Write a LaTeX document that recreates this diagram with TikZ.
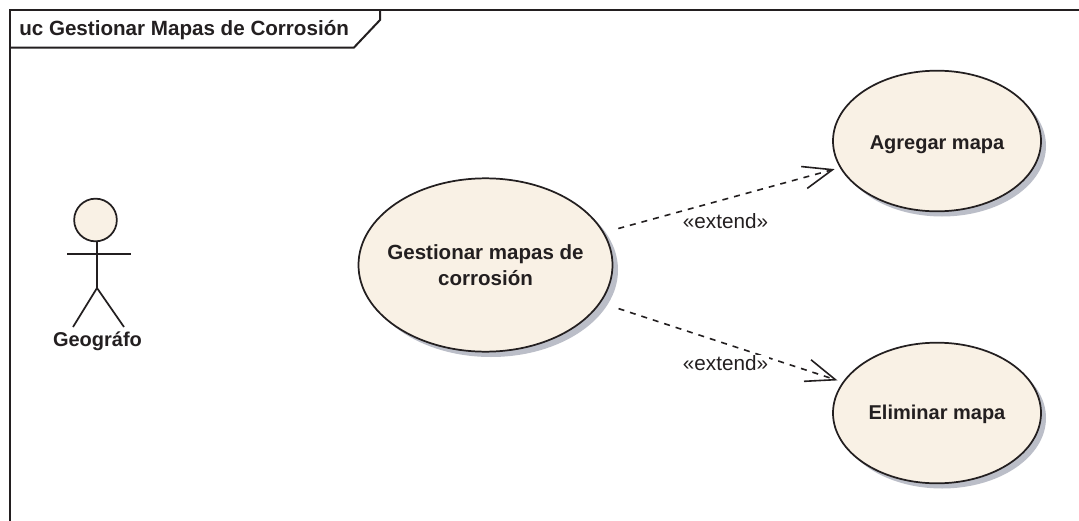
\documentclass[tikz,border=0pt]{standalone}
\usepackage{fontspec}
\setmainfont{Liberation Sans}
\usetikzlibrary{shapes.geometric,arrows.meta}
\definecolor{ink}{HTML}{231F20}
\definecolor{ucfill}{HTML}{F9F1E5}
\definecolor{ucshadow}{HTML}{BBBEC8}
\tikzset{
  x=0.75pt,y=-0.75pt,
  usecase/.style={ellipse,draw=ink,fill=ucfill,line width=1.3pt,inner sep=0pt,align=center,text=ink,font=\bfseries\fontsize{15}{19.5}\selectfont},
  shade/.style={fill=ucshadow,draw=none},
  frameline/.style={draw=ink,line width=1.5pt},
  limb/.style={draw=ink,line width=1.3pt},
  extendarrow/.style={draw=ink,line width=1.2pt,dash pattern=on 4.5pt off 4.5pt,shorten >=4pt,
    -{Straight Barb[length=22pt,width=17pt,line width=1.2pt]}},
  extendlabel/.style={fill=white,inner xsep=1pt,inner ysep=0pt,text=ink,font=\fontsize{15.5}{17}\selectfont},
}
\begin{document}
\begin{tikzpicture}
\useasboundingbox (0,0) rectangle (1079,521);
\fill[white] (0,0) rectangle (1079,521);
% frame
\draw[frameline] (1079,10) -- (10,10) -- (10,521);
\draw[frameline] (10,47.5) -- (354,47.5) -- (380,20) -- (380,10);
\node[anchor=west,inner sep=0pt,text=ink,font=\bfseries\fontsize{15.45}{18}\selectfont] (title) at (19,30) {uc Gestionar Mapas de Corrosión};
% shadows
\fill[shade] (491,270) ellipse [x radius=127,y radius=87];
\fill[shade] (942,146) ellipse [x radius=104,y radius=70.5];
\fill[shade] (942,418) ellipse [x radius=104,y radius=70.5];
% use cases
\node[usecase,minimum width=190.5pt,minimum height=130pt,inner xsep=-12pt,inner ysep=-5pt,font=\bfseries\fontsize{15.4}{19.5}\selectfont] (gest) at (485.5,265) {Gestionar mapas de\\corrosión};
\node[usecase,minimum width=156pt,minimum height=105.5pt] (agr) at (937,141) {\raisebox{-6.2pt}[5pt][5pt]{Agregar mapa}};
\node[usecase,minimum width=156pt,minimum height=105.5pt] (eli) at (937,413) {\raisebox{-4.5pt}[5pt][5pt]{Eliminar mapa}};
% actor
\node[circle,draw=ink,fill=ucfill,line width=1.3pt,minimum size=32pt,inner sep=0pt] (head) at (95.5,220) {};
\coordinate (hip) at (97,288);
\coordinate (armL) at (67,254);
\coordinate (armR) at (131,254);
\coordinate (footL) at (73,327);
\coordinate (footR) at (124,327);
\draw[limb] (head) ++(1.5,21.5) -- (hip);
\draw[limb] (armL) -- (armR);
\draw[limb] (footL) -- (hip) -- (footR);
\node[inner sep=0pt,text=ink,font=\bfseries\fontsize{15}{17}\selectfont] (actor) at (97.5,341) {Geográfo};
% connectors
\draw[extendarrow,shorten <=11pt] (gest) -- (agr);
\draw[extendarrow,shorten <=14pt] (gest) -- (eli);
\node[extendlabel] (l1) at (725.5,221) {«extend»};
\node[extendlabel] (l2) at (725.5,363) {«extend»};
\end{tikzpicture}
\end{document}
